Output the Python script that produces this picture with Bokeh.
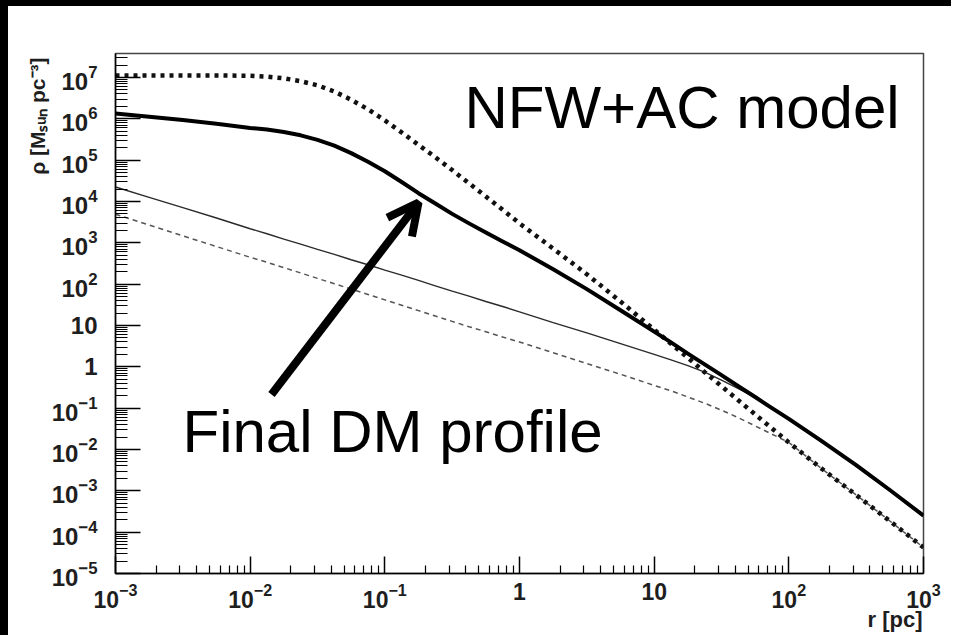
from bokeh.embed import file_html
from bokeh.models import Arrow, FixedTicker, Label, LogTickFormatter, OpenHead, Title
from bokeh.plotting import figure
from bokeh.resources import INLINE

# Radius grid, log10(r / pc)
log_r = [-3.0, -2.75, -2.5, -2.25, -2.0, -1.875, -1.75, -1.625, -1.5, -1.375, -1.25, -1.125,
         -1.0, -0.875, -0.75, -0.625, -0.5, -0.375, -0.25, -0.125, 0.0, 0.25, 0.5, 0.75,
         1.0, 1.125, 1.25, 1.375, 1.5, 1.625, 1.75, 1.875, 2.0, 2.25, 2.5, 2.75, 3.0]

# log10(rho / (Msun pc^-3)) for each profile
log_rho_dotted = [7.05, 7.05, 7.05, 7.05, 7.04, 7.02, 6.98, 6.91, 6.81, 6.66, 6.46, 6.23,
                  5.96, 5.67, 5.37, 5.07, 4.76, 4.44, 4.12, 3.80, 3.47, 2.86, 2.24, 1.58,
                  0.90, 0.56, 0.22, -0.13, -0.47, -0.81, -1.15, -1.49, -1.83, -2.48, -3.10, -3.73, -4.37]
log_rho_final = [6.13, 6.05, 5.97, 5.88, 5.78, 5.74, 5.68, 5.60, 5.49, 5.35, 5.17, 4.96,
                 4.73, 4.47, 4.20, 3.95, 3.70, 3.47, 3.25, 3.03, 2.82, 2.36, 1.88, 1.37,
                 0.85, 0.59, 0.32, 0.06, -0.20, -0.47, -0.73, -1.00, -1.26, -1.81, -2.38, -2.98, -3.60]
log_rho_thin = [4.35, 4.10, 3.85, 3.60, 3.34, 3.22, 3.09, 2.97, 2.84, 2.72, 2.59, 2.47,
                2.34, 2.22, 2.09, 1.96, 1.83, 1.71, 1.58, 1.46, 1.33, 1.07, 0.82, 0.56,
                0.30, 0.17, 0.03, -0.13, -0.32, -0.53, -0.74, -1.00, -1.26, -1.81, -2.38, -2.98, -3.60]
log_rho_dashed = [3.69, 3.43, 3.17, 2.91, 2.65, 2.53, 2.40, 2.27, 2.14, 2.01, 1.88, 1.75,
                  1.62, 1.49, 1.36, 1.23, 1.10, 0.97, 0.85, 0.72, 0.60, 0.34, 0.08, -0.18,
                  -0.45, -0.58, -0.73, -0.88, -1.05, -1.23, -1.43, -1.63, -1.83, -2.48, -3.10, -3.73, -4.37]

# Axis decades
x_decades = [-3, -2, -1, 0, 1, 2, 3]
y_decades = [-5, -4, -3, -2, -1, 0, 1, 2, 3, 4, 5, 6, 7]
y_top = 3.8e7
plain_labels = {1: "1", 10: "10"}

x_title = "r [pc]"
y_title = "\u03c1 [M\u209b\u1d64\u2099 pc\u207b\u00b3]"

r = [10 ** v for v in log_r]

p = figure(width=951, height=635, x_axis_type="log", y_axis_type="log",
           x_range=(1e-3, 1e3), y_range=(1e-5, y_top),
           output_backend="svg", toolbar_location=None,
           min_border_left=107, min_border_right=36, min_border_top=47, min_border_bottom=68,
           background_fill_color="white", border_fill_color="white")
p.styles = {"border-left": "8px solid black", "border-top": "6px solid black"}
p.xgrid.visible = False
p.ygrid.visible = False
p.outline_line_color = "#444444"
p.outline_line_width = 1.5

# Profiles
p.line(r, [10 ** v for v in log_rho_dashed], line_color="#555555", line_width=1.5, line_dash="5 4")
p.line(r, [10 ** v for v in log_rho_thin], line_color="#2a2a2a", line_width=1.4)
p.line(r, [10 ** v for v in log_rho_dotted], line_color="#111111", line_width=4.5, line_dash="4 5")
p.line(r, [10 ** v for v in log_rho_final], line_color="black", line_width=4, line_join="round")

# Ticks
x_minor = [m * 10 ** k for k in x_decades[:-1] for m in range(2, 10)]
y_minor = [m * 10 ** k for k in y_decades for m in range(2, 10) if m * 10 ** k < y_top]
p.xaxis.ticker = FixedTicker(ticks=[10 ** k for k in x_decades], minor_ticks=x_minor)
p.yaxis.ticker = FixedTicker(ticks=[10 ** k for k in y_decades], minor_ticks=y_minor)

for ax in (p.xaxis[0], p.yaxis[0]):
    ax.formatter = LogTickFormatter()
    ax.major_label_overrides = plain_labels
    ax.axis_line_color = "black"
    ax.axis_line_width = 1.5
    ax.major_tick_line_color = "black"
    ax.minor_tick_line_color = "black"
    ax.major_tick_line_width = 1.5
    ax.minor_tick_line_width = 1.2
    ax.major_tick_out = 0
    ax.minor_tick_out = 0
    ax.major_label_text_font = "Liberation Sans"
    ax.major_label_text_font_style = "bold"
    ax.major_label_text_color = "#1e1e1e"

p.xaxis.major_tick_in = 17
p.xaxis.minor_tick_in = 8
p.xaxis.major_label_text_font_size = "23px"
p.xaxis.major_label_standoff = 9

p.yaxis.major_tick_in = 25
p.yaxis.minor_tick_in = 12
p.yaxis.major_label_text_font_size = "24px"
p.yaxis.major_label_standoff = 18

# Axis titles, end-aligned next to the axes
title_style = dict(text_font="Liberation Sans", text_font_style="bold", text_color="#1e1e1e",
                   align="right")
p.add_layout(Title(text=x_title, text_font_size="22px", offset=1, standoff=-12, **title_style), "below")
p.add_layout(Title(text=y_title, text_font_size="21px", offset=4, standoff=0, **title_style), "left")

# Annotations
big = dict(text_font="Liberation Sans", text_font_size="60px", text_color="black",
           x_units="screen", y_units="screen", text_baseline="alphabetic")
p.add_layout(Label(x=349, y=466, text="NFW+AC model", **big))
p.add_layout(Label(x=67, y=142, text="Final DM profile", **big))
p.add_layout(Arrow(end=OpenHead(size=31, line_width=8, line_color="black"),
                   x_start=156, y_start=179, x_end=303, y_end=371,
                   start_units="screen", end_units="screen",
                   line_width=8, line_color="black"))

open("out.html", "w").write(file_html(p, INLINE))
